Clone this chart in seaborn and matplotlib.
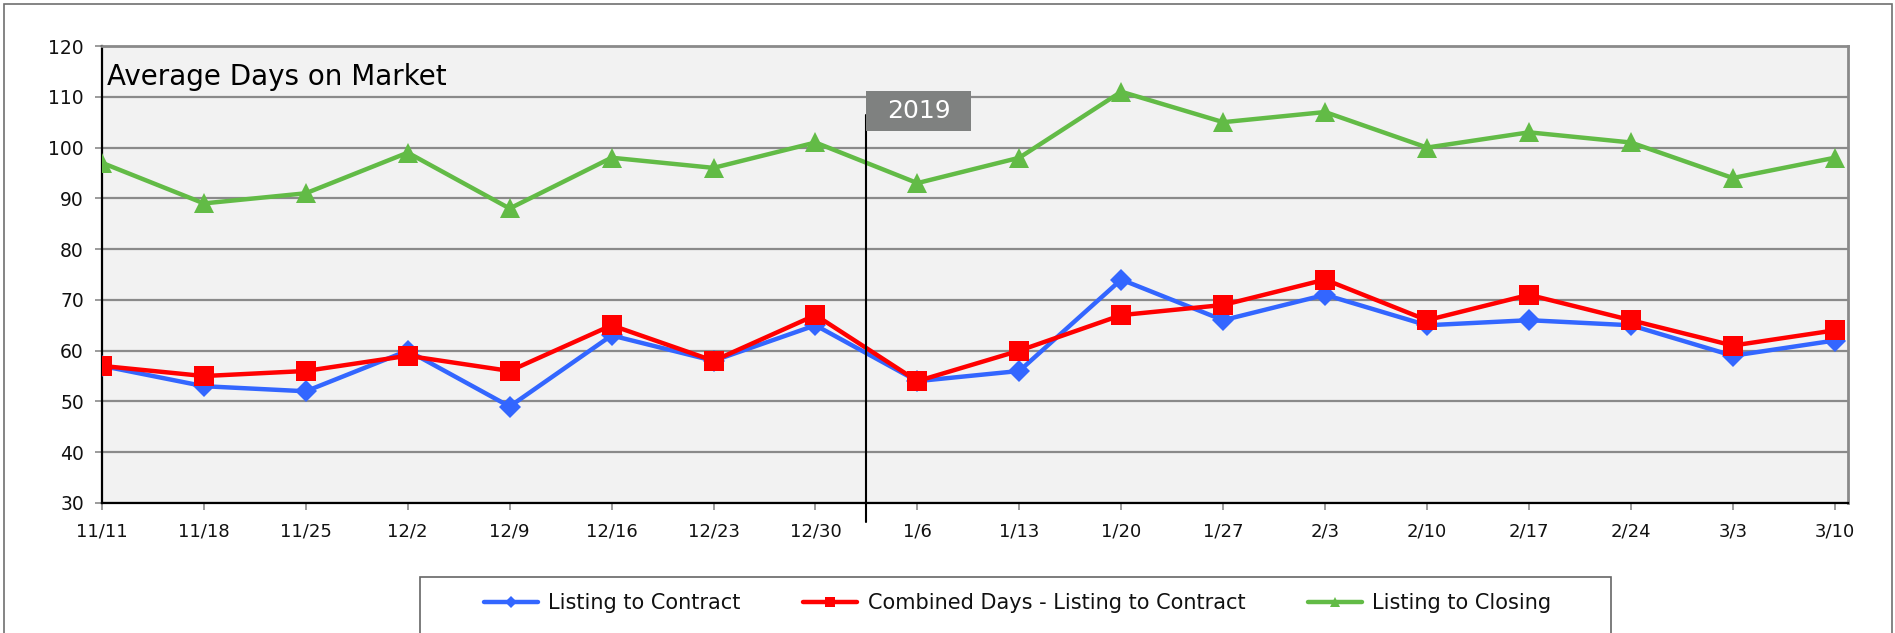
import seaborn as sns
import matplotlib.pyplot as plt
import pandas as pd
from matplotlib.patches import Rectangle

plt.switch_backend("Agg")

# ----------------------------
# Data
# ----------------------------
weeks = ["11/11", "11/18", "11/25", "12/2", "12/9", "12/16", "12/23", "12/30",
         "1/6", "1/13", "1/20", "1/27", "2/3", "2/10", "2/17", "2/24", "3/3", "3/10"]
listing_to_contract = [57, 53, 52, 60, 49, 63, 58, 65, 54, 56, 74, 66, 71, 65, 66, 65, 59, 62]
combined_days = [57, 55, 56, 59, 56, 65, 58, 67, 54, 60, 67, 69, 74, 66, 71, 66, 61, 64]
listing_to_closing = [97, 89, 91, 99, 88, 98, 96, 101, 93, 98, 111, 105, 107, 100, 103, 101, 94, 98]
y_ticks = [30, 40, 50, 60, 70, 80, 90, 100, 110, 120]

series_names = ["Listing to Contract", "Combined Days - Listing to Contract", "Listing to Closing"]
colors = {series_names[0]: "#3366ff", series_names[1]: "#ff0000", series_names[2]: "#62bb46"}
markers = {series_names[0]: "D", series_names[1]: "s", series_names[2]: "^"}
sizes = {series_names[0]: 11, series_names[1]: 14, series_names[2]: 14}

frames = []
for name, vals in zip(series_names, [listing_to_contract, combined_days, listing_to_closing]):
    frames.append(pd.DataFrame({"idx": range(len(weeks)), "days": vals, "series": name}))
df = pd.concat(frames, ignore_index=True)

sns.set_style("white")
plt.rcParams["font.family"] = ["DejaVu Sans"]

fig = plt.figure(figsize=(18.95, 6.33), dpi=100)
ax = fig.add_axes([0.0538, 0.2054, 0.9214, 0.7219])
ax.set_facecolor("#f2f2f2")

# ----------------------------
# Lines
# ----------------------------
for name in series_names:
    sub = df[df["series"] == name]
    sns.lineplot(data=sub, x="idx", y="days", color=colors[name], marker=markers[name],
                 markersize=sizes[name], markeredgewidth=0, linewidth=3.2,
                 label=name, ax=ax, zorder=3)

ax.set_xlim(0, 17.13)
ax.set_ylim(30, 120)
ax.set_yticks(y_ticks)
ax.set_xticks(range(len(weeks)))
ax.set_xticklabels(weeks)
ax.set_xlabel("")
ax.set_ylabel("")
ax.yaxis.grid(True, color="#8a8a8a", linewidth=1.6)
ax.xaxis.grid(False)
ax.set_axisbelow(True)

ax.tick_params(axis="y", which="both", left=True, length=5, width=1.2, color="#8a8a8a",
               labelsize=13.5, pad=8, labelcolor="#111111")
ax.tick_params(axis="x", which="both", bottom=True, length=5, width=1.2, color="#8a8a8a",
               labelsize=13, pad=9, labelcolor="#111111")

for side in ["left", "bottom"]:
    ax.spines[side].set_color("black")
    ax.spines[side].set_linewidth(1.6)
for side in ["top", "right"]:
    ax.spines[side].set_color("#8a8a8a")
    ax.spines[side].set_linewidth(2)

# Title inside the plot area
ax.text(0.003, 0.932, "Average Days on Market", transform=ax.transAxes,
        fontsize=20, va="center", ha="left", color="black")

# ----------------------------
# 2019 marker
# ----------------------------
ax.plot([7.5, 7.5], [26.3, 106.4], color="black", linewidth=1.5, clip_on=False, zorder=4)
ax.add_patch(Rectangle((7.5, 103.27), 1.03, 7.87, facecolor="#7f8180", edgecolor="none",
                       zorder=5, clip_on=False))
ax.text(7.5 + 0.515, 107.2, "2019", color="white", fontsize=18, ha="center", va="center",
        zorder=6)

# ----------------------------
# Legend with separate box
# ----------------------------
handles, labels = ax.get_legend_handles_labels()
ax.legend(handles, labels, loc="center", bbox_to_anchor=(0.537, 0.0474),
          bbox_transform=fig.transFigure, ncol=3, frameon=False, fontsize=15,
          handlelength=2.6, handletextpad=0.5, columnspacing=3.0, markerscale=0.55,
          labelcolor="#111111")

fig.patches.append(Rectangle((420 / 1895, -0.01), (1611 - 420) / 1895, 0.0885 + 0.01,
                             transform=fig.transFigure, fill=False,
                             edgecolor="#666666", linewidth=1.2))
# outer frame
fig.patches.append(Rectangle((4 / 1895, -0.01), 1888 / 1895, 1 - 4 / 633 + 0.01,
                             transform=fig.transFigure, fill=False,
                             edgecolor="#707070", linewidth=1.2))

fig.savefig("out.png", dpi=100)
plt.close(fig)
